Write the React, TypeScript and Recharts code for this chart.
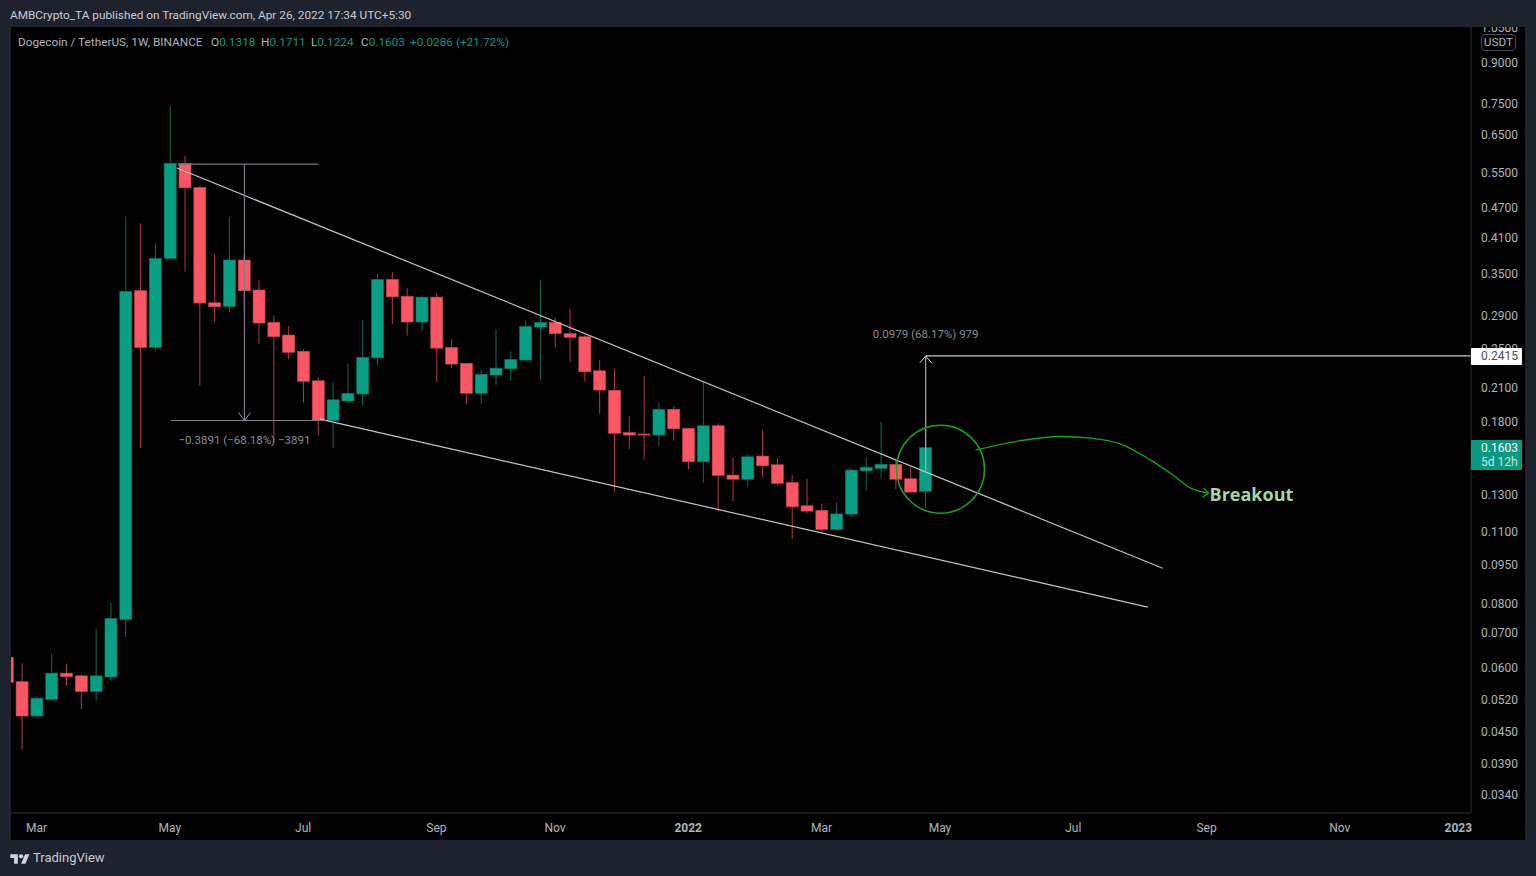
import React from "react";
import {
  ComposedChart,
  Bar,
  Line,
  XAxis,
  YAxis,
  ReferenceLine,
  ReferenceDot,
} from "recharts";

// weekly candles, first one sits at week -1 and is cut by the left edge
const opens = [
  0.0627, 0.0562, 0.0482, 0.0519, 0.0584, 0.0577, 0.0538, 0.0574, 0.0742, 0.3234, 0.2509, 0.3737, 0.5719,
  0.5135, 0.3064, 0.3015, 0.371, 0.3244, 0.2807, 0.2652, 0.2466, 0.2161, 0.1809, 0.1974, 0.2037, 0.2395,
  0.3402, 0.3153, 0.2811, 0.3143, 0.2509, 0.2336, 0.2043, 0.2217, 0.228, 0.2371, 0.2748, 0.2807, 0.2668,
  0.2632, 0.226, 0.2071, 0.1713, 0.1703, 0.1695, 0.1902, 0.1746, 0.1504, 0.1767, 0.1417, 0.1391, 0.1543,
  0.1484, 0.137, 0.1235, 0.121, 0.1111, 0.119, 0.1444, 0.146, 0.1487, 0.1394, 0.1318,
];
const highs = [
  0.064, 0.061, 0.0527, 0.0638, 0.0609, 0.0581, 0.0713, 0.08, 0.4503, 0.4372, 0.3998, 0.739, 0.5908, 0.5173,
  0.3811, 0.4496, 0.3811, 0.3388, 0.2896, 0.2761, 0.2487, 0.2194, 0.2146, 0.2336, 0.2832, 0.3496, 0.3516,
  0.3276, 0.3153, 0.3201, 0.2604, 0.234, 0.227, 0.272, 0.2466, 0.2832, 0.3397, 0.2869, 0.2978, 0.2652, 0.2371,
  0.2277, 0.1845, 0.2207, 0.1959, 0.193, 0.175, 0.2152, 0.1787, 0.1531, 0.1562, 0.1733, 0.1529, 0.1417, 0.1394,
  0.1245, 0.1254, 0.146, 0.1538, 0.1797, 0.1515, 0.1471, 0.1711,
];
const lows = [
  0.054, 0.0415, 0.0479, 0.0516, 0.0551, 0.0497, 0.0516, 0.0564, 0.0687, 0.1601, 0.2472, 0.3725, 0.3521,
  0.2117, 0.2811, 0.2943, 0.2965, 0.2551, 0.1636, 0.2378, 0.1959, 0.1695, 0.1601, 0.1952, 0.1939, 0.2311,
  0.2782, 0.2644, 0.2704, 0.2149, 0.2287, 0.1945, 0.195, 0.2123, 0.2161, 0.2353, 0.2168, 0.2509, 0.2353, 0.2152,
  0.1865, 0.1315, 0.1594, 0.1517, 0.1614, 0.1653, 0.1455, 0.137, 0.1203, 0.126, 0.1345, 0.1404, 0.1351, 0.1065,
  0.1194, 0.1095, 0.1104, 0.1175, 0.1323, 0.1404, 0.1331, 0.1313, 0.1224,
];
const closes = [
  0.056, 0.0482, 0.0522, 0.0584, 0.0575, 0.0538, 0.0577, 0.0746, 0.3225, 0.2509, 0.3737, 0.5719, 0.5126, 0.306,
  0.301, 0.371, 0.3234, 0.2798, 0.2632, 0.2455, 0.2156, 0.1809, 0.1985, 0.2043, 0.24, 0.3402, 0.3147, 0.2811,
  0.3143, 0.2501, 0.2329, 0.2043, 0.2224, 0.2287, 0.2378, 0.2757, 0.2807, 0.2668, 0.2624, 0.225, 0.2073, 0.1708,
  0.1695, 0.1695, 0.1902, 0.1743, 0.1504, 0.1767, 0.1415, 0.1391, 0.1538, 0.1477, 0.1366, 0.123, 0.1206, 0.1111,
  0.1191, 0.1449, 0.1468, 0.1487, 0.1391, 0.1313, 0.1603,
];

const candles = opens.map((open, k) => ({
  week: k - 1,
  open,
  high: highs[k],
  low: lows[k],
  close: closes[k],
}));

const monthWeeks = [1, 10, 19, 28, 36, 45, 54, 62, 71, 80, 89, 97];
const monthLabels = ["Mar", "May", "Jul", "Sep", "Nov", "2022", "Mar", "May", "Jul", "Sep", "Nov", "2023"];
// 0.15 is left out, the live price tag sits on top of it
const priceTicks = [
  1.05, 0.9, 0.75, 0.65, 0.55, 0.47, 0.41, 0.35, 0.29, 0.25, 0.21, 0.18, 0.13, 0.11, 0.095, 0.08, 0.07, 0.06,
  0.052, 0.045, 0.039, 0.034,
];

const upperTrend = [
  { x: 10.45, y: 0.56 },
  { x: 77, y: 0.0934 },
];
const lowerTrend = [
  { x: 20.1, y: 0.182 },
  { x: 76, y: 0.0785 },
];
const breakoutCurve = [
  { week: 64.37, price: 0.1585 },
  { week: 67.4, price: 0.1653 },
  { week: 70.1, price: 0.1684 },
  { week: 72.14, price: 0.1672 },
  { week: 74.16, price: 0.1628 },
  { week: 76.2, price: 0.1515 },
  { week: 77.7, price: 0.1417 },
  { week: 78.9, price: 0.1337 },
  { week: 80.1, price: 0.1307 },
];

const RIGHT_EDGE = 97.82;
const GREEN = "#089981";
const TEXT = "#b2b5be";
const FONT = "Roboto, sans-serif";
const PANEL = "#1e222d";

function Candle(props: any) {
  const { x, y, width, height, payload } = props;
  const up = payload.close >= payload.open;
  const span = Math.log(payload.high) - Math.log(payload.low);
  const yOf = (v: number) => y + (height * (Math.log(payload.high) - Math.log(v))) / span;
  const top = yOf(Math.max(payload.open, payload.close));
  const bottom = yOf(Math.min(payload.open, payload.close));
  const cx = x + width / 2 + 0.2;
  return (
    <g>
      <line x1={cx} x2={cx} y1={y} y2={y + height} stroke={up ? "#0a6b5b" : "#b03a48"} strokeWidth={1} />
      <rect
        x={cx - width / 2}
        y={top}
        width={width}
        height={Math.max(bottom - top, 1)}
        fill={up ? "#089f84" : "#fb5664"}
        stroke={up ? "#0a7563" : "#c9434f"}
        strokeWidth={0.6}
      />
    </g>
  );
}

function MonthTick(props: any) {
  const { x, y, payload } = props;
  const label = monthLabels[monthWeeks.indexOf(payload.value)];
  return (
    <text
      x={x - 0.5}
      y={y + 11}
      textAnchor="middle"
      fill={TEXT}
      fontSize={12}
      fontFamily={FONT}
      fontWeight={label === "2022" || label === "2023" ? 700 : 400}
    >
      {label}
    </text>
  );
}

const noteAt = (text: string) => (props: any) => (
  <text x={props.cx} y={props.cy + 4} textAnchor="middle" fill="#8a8d96" fontSize={11.5} fontFamily={FONT}>
    {text}
  </text>
);

const arrowDown = (props: any) => (
  <polyline
    points={`${props.cx - 6},${props.cy - 8} ${props.cx},${props.cy} ${props.cx + 6},${props.cy - 8}`}
    fill="none"
    stroke="#9598a1"
  />
);
const arrowUp = (props: any) => (
  <polyline
    points={`${props.cx - 6},${props.cy + 7} ${props.cx},${props.cy} ${props.cx + 6},${props.cy + 7}`}
    fill="none"
    stroke="#c8cad0"
  />
);
const arrowRight = (props: any) => (
  <g>
    <polyline
      points={`${props.cx - 5},${props.cy - 5} ${props.cx},${props.cy} ${props.cx - 6},${props.cy + 4}`}
      fill="none"
      stroke="#16a516"
      strokeWidth={1.3}
    />
    <text x={props.cx + 1} y={props.cy + 8} fill="#a5d6a7" fontSize={18} fontWeight={700} fontFamily="'Open Sans', sans-serif">
      Breakout
    </text>
  </g>
);

const abs = (left: number, top: number, extra: React.CSSProperties = {}): React.CSSProperties => ({
  position: "absolute",
  left,
  top,
  fontFamily: FONT,
  fontSize: 11.8,
  lineHeight: "16px",
  whiteSpace: "nowrap",
  color: TEXT,
  ...extra,
});

export default function App() {
  return (
    <div style={{ position: "absolute", left: 0, top: 0, width: 1536, height: 876, background: PANEL, overflow: "hidden" }}>
      <div style={{ position: "absolute", left: 11, top: 27, width: 1514, height: 813, background: "#000" }} />
      <div style={{ position: "absolute", left: 0, top: 0 }}>
        <ComposedChart
          width={1536}
          height={876}
          data={candles}
          margin={{ top: 27, right: 11, bottom: 36, left: 11 }}
        >
          <XAxis
            dataKey="week"
            type="number"
            domain={[-0.763, RIGHT_EDGE]}
            allowDataOverflow
            ticks={monthWeeks}
            interval={0}
            height={27}
            tick={<MonthTick />}
            tickLine={false}
            axisLine={{ stroke: "#2a2e39" }}
          />
          <YAxis
            orientation="right"
            scale="log"
            domain={[0.03123, 1.0527]}
            allowDataOverflow
            ticks={priceTicks}
            interval={0}
            width={54}
            tickSize={0}
            tickMargin={10}
            tickFormatter={(v: number) => v.toFixed(4)}
            tick={{ fill: TEXT, fontSize: 12, fontFamily: FONT, textAnchor: "start", dy: 0.5 }}
            axisLine={{ stroke: "#2a2e39" }}
          />

          <ReferenceLine segment={upperTrend} stroke="#c4c6cc" strokeWidth={1.2} />
          <ReferenceLine segment={lowerTrend} stroke="#c4c6cc" strokeWidth={1.2} />
          <ReferenceLine segment={[{ x: 10.5, y: 0.57 }, { x: 20, y: 0.57 }]} stroke="#787b86" strokeWidth={1.2} />
          <ReferenceLine segment={[{ x: 10, y: 0.1809 }, { x: 20.5, y: 0.1809 }]} stroke="#787b86" strokeWidth={1.2} />
          <ReferenceLine segment={[{ x: 15, y: 0.57 }, { x: 15, y: 0.1809 }]} stroke="#787b86" strokeWidth={1.2} />
          <ReferenceLine segment={[{ x: 61, y: 0.1436 }, { x: 61, y: 0.2415 }]} stroke="#a8abb2" strokeWidth={1.2} />
          <ReferenceLine segment={[{ x: 61, y: 0.2415 }, { x: RIGHT_EDGE, y: 0.2415 }]} stroke="#c8cad0" strokeWidth={1.2} />
          <ReferenceDot x={15} y={0.1809} shape={arrowDown} />
          <ReferenceDot x={61} y={0.2415} shape={arrowUp} />
          <ReferenceDot x={62} y={0.1455} r={44} fill="none" stroke="#16a516" strokeWidth={1.5} />

          <Bar
            dataKey={(d: any) => [d.low, d.high]}
            barSize={12}
            shape={<Candle />}
            isAnimationActive={false}
          />

          <Line
            data={breakoutCurve}
            dataKey="price"
            type="monotone"
            stroke="#16a516"
            strokeWidth={1.3}
            dot={false}
            activeDot={false}
            isAnimationActive={false}
          />
          <ReferenceDot x={80.1} y={0.1307} shape={arrowRight} />
          <ReferenceDot x={15} y={0.1657} shape={noteAt("−0.3891 (−68.18%) −3891")} />
          <ReferenceDot x={61} y={0.2665} shape={noteAt("0.0979 (68.17%) 979")} />
        </ComposedChart>
      </div>

      <div style={{ position: "absolute", left: 0, top: 0, width: 1536, height: 27, background: PANEL }} />
      <div style={abs(10, 7, { color: "#c9ccd4" })}>AMBCrypto_TA published on TradingView.com, Apr 26, 2022 17:34 UTC+5:30</div>
      <div style={abs(18, 34)}>Dogecoin / TetherUS, 1W, BINANCE</div>
      {[
        ["O", "0.1318", 211],
        ["H", "0.1711", 261],
        ["L", "0.1224", 311],
        ["C", "0.1603", 361],
      ].map(([k, v, left]) => (
        <div key={k as string} style={abs(left as number, 34)}>
          {k}
          <span style={{ color: GREEN }}>{v}</span>
        </div>
      ))}
      <div style={abs(410, 34, { color: GREEN })}>+0.0286 (+21.72%)</div>

      <div
        style={{
          ...abs(1481, 34),
          width: 35,
          height: 17,
          boxSizing: "border-box",
          border: "1px solid #434651",
          borderRadius: 4,
          background: "#000",
          textAlign: "center",
          lineHeight: "15px",
        }}
      >
        USDT
      </div>

      <div style={{ ...abs(1471, 348), width: 51, height: 17, background: "#fff", color: "#4a4d55", paddingLeft: 10, boxSizing: "border-box", lineHeight: "17px", borderRadius: 1, fontSize: 12 }}>
        0.2415
      </div>
      <div style={{ ...abs(1471, 440), width: 51, height: 30, background: GREEN, color: "#fff", paddingLeft: 10, boxSizing: "border-box", lineHeight: "14px", paddingTop: 1, borderRadius: 1, fontSize: 12 }}>
        0.1603
        <br />
        <span style={{ color: "#c8e6df" }}>5d 12h</span>
      </div>

      <svg style={{ position: "absolute", left: 10, top: 852 }} width={20} height={14} viewBox="0 0 36 26">
        <path d="M14 22H7V11H0V4h14v18zM28 22h-8l7.5-18h8L28 22z" fill="#d1d4dc" />
        <circle cx={20} cy={8} r={4} fill="#d1d4dc" />
      </svg>
      <div style={abs(33, 850, { fontSize: 13, color: "#c9ccd4" })}>TradingView</div>
    </div>
  );
}
